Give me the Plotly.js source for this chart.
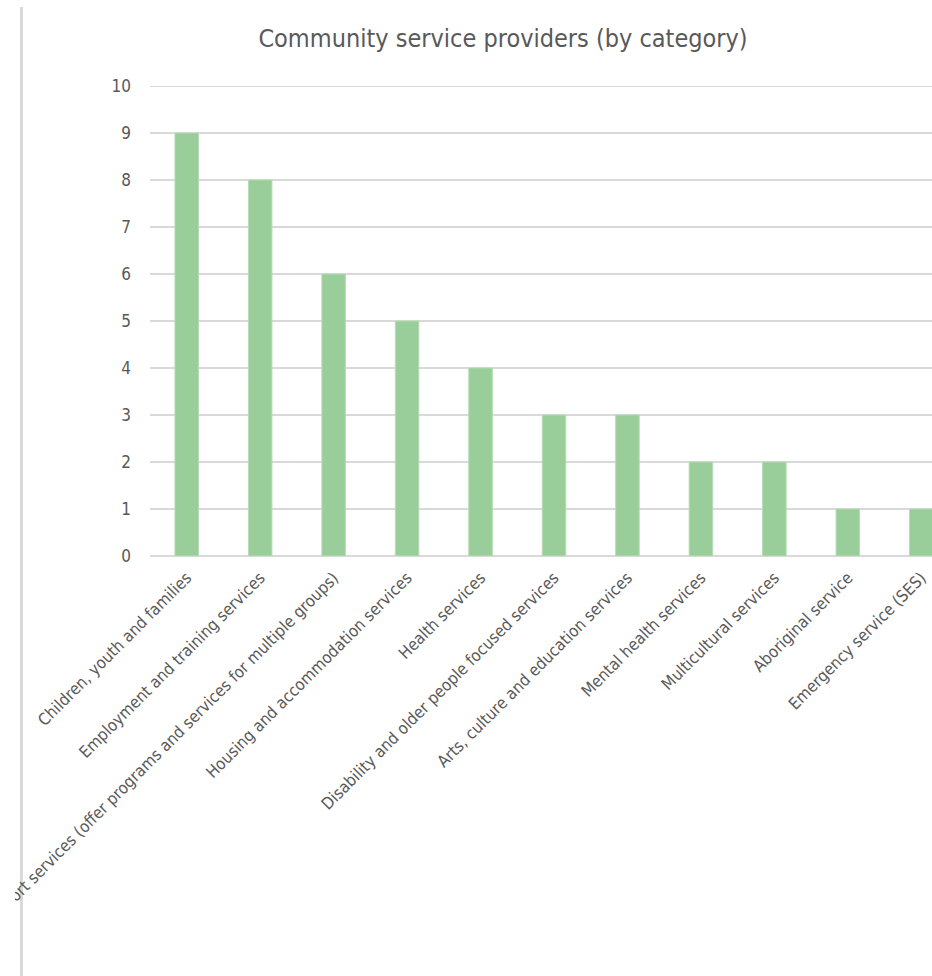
<!DOCTYPE html>
<html>
<head>
<meta charset="utf-8">
<script src="https://cdn.plot.ly/plotly-3.0.1.min.js"></script>
<style>
  html, body { margin: 0; padding: 0; width: 932px; height: 976px; overflow: hidden; background: #fff; }
  #frame { position: absolute; left: 20px; top: 7px; width: 3px; height: 969px; background: #d9d9d9; }
  #chart { position: absolute; left: 15px; top: 0; width: 943px; height: 976px; }
  #chart text { font-stretch: condensed !important; }
</style>
</head>
<body>
<div id="frame"></div>
<div id="chart"></div>
<script>
const categories = [
  "Children, youth and families",
  "Employment and training services",
  "General support services (offer programs and services for multiple groups)",
  "Housing and accommodation services",
  "Health services",
  "Disability and older people focused services",
  "Arts, culture and education services",
  "Mental health services",
  "Multicultural services",
  "Aboriginal service",
  "Emergency service (SES)"
];
const providers = [9, 8, 6, 5, 4, 3, 3, 2, 2, 1, 1];
const yTicks = [0, 1, 2, 3, 4, 5, 6, 7, 8, 9, 10];

const font = "'DejaVu Sans', sans-serif";

Plotly.newPlot('chart', [{
  type: 'bar',
  x: categories,
  y: providers,
  marker: { color: '#99cd99', line: { color: '#b5dcb4', width: 1 } },
  hoverinfo: 'skip'
}], {
  width: 943,
  height: 976,
  margin: { l: 135, r: 0, t: 86, b: 420, pad: 0 },
  paper_bgcolor: 'rgba(0,0,0,0)',
  plot_bgcolor: 'rgba(0,0,0,0)',
  bargap: 0.68,
  showlegend: false,
  title: {
    text: 'Community service providers (by category)',
    font: { family: font, size: 25, color: '#595959' },
    x: 488 / 943, xref: 'container', xanchor: 'center',
    y: 1 - 38 / 976, yref: 'container', yanchor: 'middle'
  },
  xaxis: {
    type: 'category',
    tickangle: -45,
    tickfont: { family: font, size: 16.5, color: '#595959' },
    showgrid: false,
    showline: false,
    ticks: '',
    ticklabelstandoff: 8,
    automargin: false
  },
  yaxis: {
    range: [0, 10],
    tickvals: yTicks,
    ticktext: yTicks.map(String),
    tickfont: { family: font, size: 17, color: '#595959' },
    showgrid: true,
    gridcolor: '#d9d9d9',
    gridwidth: 2,
    zeroline: true,
    zerolinecolor: '#d9d9d9',
    zerolinewidth: 2,
    showline: false,
    ticks: '',
    ticklabelstandoff: 18,
    automargin: false
  },
  shapes: [{
    type: 'line', xref: 'paper', yref: 'y', layer: 'below',
    x0: 0, x1: 1, y0: yTicks[yTicks.length - 1], y1: yTicks[yTicks.length - 1],
    line: { color: '#d9d9d9', width: 2 }
  }]
}, { displayModeBar: false, staticPlot: true });
</script>
</body>
</html>
